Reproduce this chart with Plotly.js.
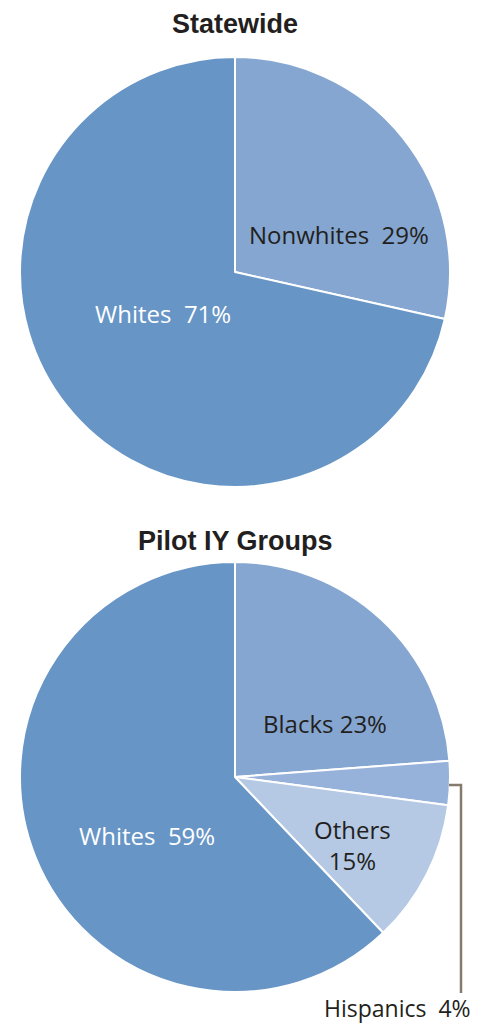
<!DOCTYPE html>
<html><head><meta charset="utf-8">
<script src="https://cdn.plot.ly/plotly-3.0.1.min.js"></script>
<style>html,body{margin:0;padding:0;background:#fff;}#chart{width:490px;height:1025px;}</style>
</head><body><div id="chart"></div>
<script>
// Statewide
const stateLabels = ['Nonwhites', 'Whites'];
const stateValues = [28.5, 71.5];
const stateText = ['Nonwhites  29%', 'Whites  71%'];
// Pilot IY groups (slice sizes as drawn; labels as printed)
const pilotLabels = ['Blacks', 'Hispanics', 'Others', 'Whites'];
const pilotValues = [23.8, 3.3, 10.8, 62.1];
const pilotText = ['Blacks 23%', 'Hispanics  4%', 'Others<br>15%', 'Whites  59%'];

const W = 490, H = 1025;
const px = x => x / W, py = y => 1 - y / H;
const colTop = ['#85a6d0', '#6795c6'];
const colBot = ['#85a6d0', '#97b2da', '#b5c8e4', '#6795c6'];
const lab = {family: 'Open Sans, Liberation Sans, Arial, sans-serif', size: 24};

const data = [
  {type: 'pie', labels: stateLabels, values: stateValues, sort: false, direction: 'clockwise', rotation: 0,
   marker: {colors: colTop, line: {color: '#fff', width: 2}}, textinfo: 'none', hoverinfo: 'none',
   domain: {x: [px(20), px(450)], y: [py(487), py(57)]}, showlegend: false},
  {type: 'pie', labels: pilotLabels, values: pilotValues, sort: false, direction: 'clockwise', rotation: 0,
   marker: {colors: colBot, line: {color: '#fff', width: 2}}, textinfo: 'none', hoverinfo: 'none',
   domain: {x: [px(20), px(450)], y: [py(992), py(562)]}, showlegend: false}
];

function ann(text, x, y, color, extra) {
  return Object.assign({text: text, x: px(x), y: py(y), xref: 'paper', yref: 'paper', showarrow: false,
    xanchor: 'center', yanchor: 'middle', font: Object.assign({}, lab, {color: color})}, extra || {});
}
const titleFont = {family: 'Liberation Sans, Arial', size: 27, color: '#231f20'};
const annotations = [
  {text: '<b>Statewide</b>', x: px(235), y: py(24), xref: 'paper', yref: 'paper', showarrow: false,
   xanchor: 'center', yanchor: 'middle', font: titleFont},
  {text: '<b>Pilot IY Groups</b>', x: px(235), y: py(541), xref: 'paper', yref: 'paper', showarrow: false,
   xanchor: 'center', yanchor: 'middle', font: titleFont},
  ann(stateText[0], 339, 235, '#231f20'),
  ann(stateText[1], 163, 313, '#ffffff'),
  ann(pilotText[0], 325, 723, '#231f20'),
  ann(pilotText[2], 352, 845, '#231f20', {align: 'center'}),
  ann(pilotText[3], 147, 835, '#ffffff'),
  ann(pilotText[1], 397, 1008, '#231f20', {font: Object.assign({}, lab, {size: 23, color: '#231f20'})})
];
const shapes = [
  {type: 'path', xref: 'paper', yref: 'paper',
   path: 'M ' + px(449) + ',' + py(785) + ' L ' + px(461) + ',' + py(785) + ' L ' + px(461) + ',' + py(993),
   line: {color: '#857a6b', width: 2.5}}
];

Plotly.newPlot('chart', data, {
  width: W, height: H, margin: {l: 0, r: 0, t: 0, b: 0},
  paper_bgcolor: '#fff', plot_bgcolor: '#fff', annotations: annotations, shapes: shapes
}, {staticPlot: true});
</script></body></html>
